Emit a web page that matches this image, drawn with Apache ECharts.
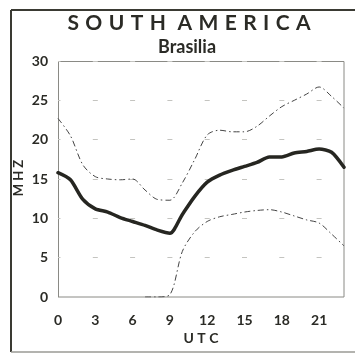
<!DOCTYPE html>
<html>
<head>
<meta charset="utf-8">
<script src="https://cdn.jsdelivr.net/npm/echarts@6/dist/echarts.min.js"></script>
<style>
  html, body { margin: 0; padding: 0; background: #fff; }
  #chart { width: 355px; height: 353px; }
</style>
</head>
<body>
<div id="chart"></div>
<script>
// Hour of day (UTC)
const hours = [0, 1, 2, 3, 4, 5, 6, 7, 8, 9, 10, 11, 12, 13, 14, 15, 16, 17, 18, 19, 20, 21, 22, 23];
// Median maximum usable frequency, MHz
const medianMuf = [15.8, 14.9, 12.4, 11.2, 10.8, 10.1, 9.6, 9.1, 8.5, 8.1, 10.5, 12.8,
                   14.6, 15.5, 16.1, 16.6, 17.1, 17.8, 17.8, 18.3, 18.5, 18.8, 18.4, 16.5];
// Upper and lower decile frequencies, MHz
const upperMuf = [22.7, 20.5, 16.8, 15.3, 15.0, 14.9, 15.0, 13.6, 12.4, 12.3, 14.5, 17.5,
                  20.6, 21.2, 21.0, 21.0, 21.7, 23.0, 24.2, 25.0, 25.8, 26.7, 25.5, 24.0];
const lowerMuf = [null, null, null, null, null, null, null, 0, 0, 0.3, 5.8, 8.3,
                  9.6, 10.2, 10.5, 10.8, 11.0, 11.1, 10.8, 10.3, 9.8, 9.4, 8.0, 6.5];
// Axis tick labels
const xTicks = [0, 3, 6, 9, 12, 15, 18, 21];
const yTicks = [0, 5, 10, 15, 20, 25, 30];

const pairs = vals => hours.map((h, i) => [h, vals[i]]);
// letter-spaced caption text: hair space + space between letters, wider gap between words
const spaced = s => s.split(' ').map(w => w.split('').join('\u200A ')).join('\u200A  ');

const FONT = 'Lato, "Open Sans", sans-serif';
const INK = '#2b2b26';

const chart = echarts.init(document.getElementById('chart'), null, { renderer: 'canvas' });

chart.setOption({
  animation: false,
  backgroundColor: '#fff',
  grid: { left: 58, right: 11, top: 61, bottom: 56, show: false },
  xAxis: {
    type: 'value',
    min: 0, max: 23, interval: 3,
    axisLine: { show: false },
    axisTick: { show: false },
    splitLine: { show: false },
    axisLabel: {
      margin: 16,
      fontFamily: FONT, fontWeight: 'bold', fontSize: 14, color: INK,
      formatter: v => (xTicks.includes(v) ? String(v) : '')
    }
  },
  yAxis: {
    type: 'value',
    min: 0, max: 30, interval: 5,
    axisLine: { show: false },
    axisTick: { show: false },
    splitLine: {
      show: true,
      lineStyle: { color: '#c4c4c0', width: 1, type: [5, 32.3], dashOffset: 2.5 }
    },
    axisLabel: {
      margin: 10,
      fontFamily: FONT, fontWeight: 'bold', fontSize: 14, color: INK,
      formatter: v => (yTicks.includes(v) ? String(v) : '')
    }
  },
  graphic: [
    // outer frame
    { type: 'line', shape: { x1: 11, y1: 10, x2: 355, y2: 10 }, style: { stroke: '#3a3a33', lineWidth: 2 } },
    { type: 'line', shape: { x1: 11, y1: 10, x2: 11, y2: 352 }, style: { stroke: '#3a3a33', lineWidth: 2 } },
    { type: 'line', shape: { x1: 11, y1: 352, x2: 355, y2: 352 }, style: { stroke: '#9a9a95', lineWidth: 1.5 } },
    // plot box
    { type: 'rect', shape: { x: 58.5, y: 61.5, width: 285.5, height: 235.5 },
      style: { fill: 'none', stroke: '#8a8a85', lineWidth: 1 } },
    // titles
    { type: 'text', x: 189, y: 23,
      style: { text: spaced('SOUTH AMERICA'), font: 'bold 21px ' + FONT, fill: INK,
               align: 'center', verticalAlign: 'middle' } },
    { type: 'text', x: 187, y: 47,
      style: { text: 'Brasilia', font: 'bold 18px ' + FONT, fill: INK,
               align: 'center', verticalAlign: 'middle' } },
    { type: 'text', x: 201, y: 338,
      style: { text: 'U T C', font: 'bold 14px ' + FONT, fill: INK,
               align: 'center', verticalAlign: 'middle' } },
    { type: 'text', x: 19, y: 178, rotation: Math.PI / 2,
      style: { text: 'M H Z', font: 'bold 13px ' + FONT, fill: INK,
               align: 'center', verticalAlign: 'middle' } }
  ],
  series: [
    {
      type: 'line', data: pairs(upperMuf), showSymbol: false, smooth: 0.3,
      lineStyle: { color: '#444', width: 1, type: [6, 3, 1.5, 3] }, z: 2
    },
    {
      type: 'line', data: pairs(lowerMuf), showSymbol: false, smooth: 0.3, connectNulls: false,
      lineStyle: { color: '#444', width: 1, type: [6, 3, 1.5, 3] }, z: 2
    },
    {
      type: 'line', data: pairs(medianMuf), showSymbol: false, smooth: 0.25,
      lineStyle: { color: '#262621', width: 3.5, cap: 'round', join: 'round' }, z: 3
    }
  ]
});
</script>
</body>
</html>
